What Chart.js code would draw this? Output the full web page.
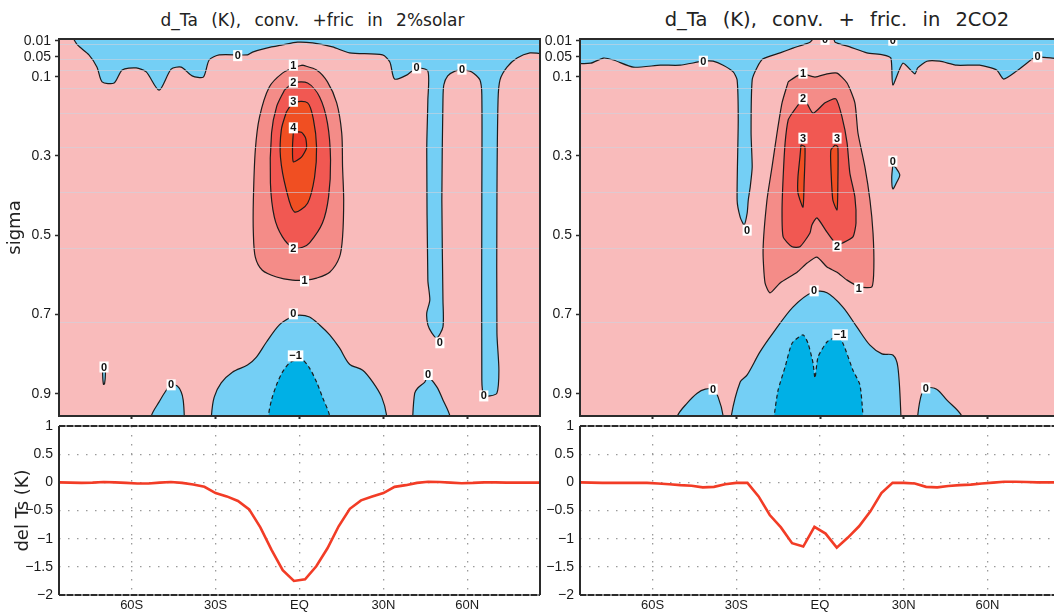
<!DOCTYPE html>
<html>
<head>
<meta charset="utf-8">
<script src="https://cdn.jsdelivr.net/npm/chart.js@4.4.0/dist/chart.umd.min.js"></script>
<style>
  html, body { margin: 0; padding: 0; background: #fff; overflow: hidden; }
  body { width: 1054px; height: 613px; position: relative; }
  canvas { position: absolute; }
  .ttl { position: absolute; line-height: 1; font-family: "DejaVu Sans", sans-serif; color: #222; white-space: nowrap; transform: translateX(-50%); }
</style>
</head>
<body>
<div class="ttl" style="left:312.5px; top:12px; font-size:17px; word-spacing:8px;">d_Ta (K), conv. +fric in 2%solar</div>
<div class="ttl" style="left:837px; top:10px; font-size:19.5px; word-spacing:9px;">d_Ta (K), conv. + fric. in 2CO2</div>
<canvas id="taSolar" width="548" height="430" style="left:0; top:0;"></canvas>
<canvas id="taCO2" width="547" height="430" style="left:521px; top:0;"></canvas>
<canvas id="tsSolar" width="548" height="202" style="left:0; top:411px;"></canvas>
<canvas id="tsCO2" width="547" height="202" style="left:521px; top:411px;"></canvas>
<script>
// axes
const latTicks = [-60, -30, 0, 30, 60];
const latTickLabels = ['60S', '30S', 'EQ', '30N', '60N'];
const sigmaTicks = [0.01, 0.05, 0.1, 0.3, 0.5, 0.7, 0.9];
const sigmaTickLabels = ['0.01', '0.05', '0.1', '0.3', '0.5', '0.7', '0.9'];
const sigmaLevels = [0.018, 0.055, 0.084, 0.129, 0.192, 0.277, 0.390, 0.533, 0.719];
const tsTicks = [-2, -1.5, -1, -0.5, 0, 0.5, 1];
const tsTickLabels = ['\u22122', '\u22121.5', '\u22121', '\u22120.5', '0', '0.5', '1'];

// surface temperature change, del Ts (K)
const tsLat = [-86, -82, -78, -74, -70, -66, -62, -58, -54, -50, -46, -42, -38, -34, -30, -26, -22, -18, -14, -10, -6, -2,
               2, 6, 10, 14, 18, 22, 26, 30, 34, 38, 42, 46, 50, 54, 58, 62, 66, 70, 74, 78, 82, 86];
const tsSolar = [0, -0.005, -0.01, -0.005, 0.005, 0, -0.01, -0.02, -0.02, -0.005, 0.005, -0.01, -0.04, -0.08, -0.19, -0.25, -0.33, -0.48, -0.8, -1.2, -1.56, -1.75,
                 -1.72, -1.49, -1.17, -0.78, -0.47, -0.32, -0.25, -0.19, -0.08, -0.05, -0.01, 0.01, 0.005, -0.005, -0.015, -0.01, 0, 0, -0.005, -0.005, -0.005, -0.005];
const tsCO2 = [0, -0.005, -0.01, -0.01, -0.01, -0.01, -0.01, -0.02, -0.035, -0.05, -0.06, -0.09, -0.08, -0.035, -0.01, -0.01, -0.25, -0.58, -0.8, -1.08, -1.14, -0.79,
               -0.91, -1.16, -0.98, -0.78, -0.52, -0.19, -0.01, -0.01, -0.02, -0.08, -0.09, -0.065, -0.05, -0.04, -0.02, -0.005, 0.01, 0.01, 0.005, 0, 0, 0];

// d_Ta contours, 2% solar: [lat, sigma]
const solarNegTop = [[-81.2, 0], [-79.4, 0.02], [-75.3, 0.045], [-72.4, 0.076], [-70.6, 0.113], [-66.3, 0.116], [-63.4, 0.083], [-58.4, 0.078],
  [-54.8, 0.088], [-50.2, 0.134], [-45.9, 0.081], [-42.3, 0.076], [-38.4, 0.098], [-34.4, 0.101], [-32.3, 0.058], [-28.7, 0.045], [-18.6, 0.045],
  [-16.8, 0.038], [-11.8, 0.028], [-6.1, 0.02], [-0.7, 0.013], [4.7, 0.015], [11.8, 0.025], [17.9, 0.04], [29.7, 0.045], [32.3, 0.063], [34.0, 0.106],
  [38.3, 0.096], [41.9, 0.078], [45.9, 0.086], [45.9, 0.159], [45.5, 0.285], [45.9, 0.613], [46.6, 0.663], [45.5, 0.696], [45.9, 0.726], [47.3, 0.746],
  [49.1, 0.759], [51.3, 0.731], [51.3, 0.663], [50.9, 0.411], [51.3, 0.159], [51.6, 0.121], [53.0, 0.098], [55.6, 0.086], [58.1, 0.083], [61.6, 0.088],
  [64.5, 0.108], [65.2, 0.146], [65.2, 0.411], [65.2, 0.865], [65.9, 0.903], [68.1, 0.905], [70.6, 0.898], [71.3, 0.84], [70.6, 0.746], [70.6, 0.411],
  [71.0, 0.159], [71.7, 0.108], [74.2, 0.076], [77.8, 0.053], [82.4, 0.04], [88, 0.04], [88, 0], [-81.2, 0]];
const solarNegSpot = [[-70.3, 0.828], [-69.6, 0.826], [-69.4, 0.85], [-69.7, 0.874], [-70.1, 0.876], [-70.4, 0.85], [-70.3, 0.828]];
const solarNegLowA = [[-53.0, 1], [-53.0, 0.956], [-50.2, 0.92], [-47.6, 0.89], [-45.9, 0.877], [-43.7, 0.88], [-42.3, 0.895], [-41.6, 0.915], [-41.2, 0.956], [-41.2, 1]];
const solarNegLowB = [[-31.5, 1], [-31.5, 0.956], [-30.5, 0.908], [-28.0, 0.872], [-24.0, 0.845], [-18.6, 0.827], [-15.4, 0.807], [-11.8, 0.769],
  [-7.2, 0.726], [-2.9, 0.706], [0, 0.701], [3.6, 0.706], [7.2, 0.726], [10.8, 0.751], [14.3, 0.784], [17.9, 0.825], [22.6, 0.84], [26.2, 0.87],
  [29.4, 0.908], [31.2, 0.956], [31.2, 1]];
const solarNegLowC = [[40.5, 1], [40.5, 0.956], [41.2, 0.898], [42.3, 0.885], [44.8, 0.87], [45.9, 0.857], [49.1, 0.882], [51.3, 0.915], [53.8, 0.956], [53.8, 1]];
const solarMinus1 = [[-11.1, 1], [-11.1, 0.956], [-10.0, 0.915], [-8.2, 0.877], [-6.1, 0.845], [-3.6, 0.822], [-1.1, 0.814], [1.1, 0.814], [3.6, 0.835],
  [6.1, 0.87], [8.2, 0.908], [10.8, 0.956], [10.8, 1]];
const solarPlus1 = [[1.1, 0.071], [6.1, 0.083], [10.0, 0.113], [13.3, 0.166], [15.1, 0.242], [15.4, 0.328], [15.8, 0.411], [15.4, 0.504], [14.3, 0.555],
  [10.8, 0.593], [6.1, 0.608], [2.2, 0.613], [-2.5, 0.613], [-8.2, 0.605], [-13.3, 0.588], [-15.8, 0.555], [-16.5, 0.494], [-16.5, 0.411], [-15.8, 0.285],
  [-14.3, 0.202], [-10.8, 0.126], [-6.1, 0.091], [-1.8, 0.076], [1.1, 0.071]];
const solarPlus2 = [[-5.4, 0.134], [-2.2, 0.116], [2.9, 0.116], [7.2, 0.151], [10.0, 0.217], [11.1, 0.31], [10.4, 0.403], [8.2, 0.469], [3.6, 0.519],
  [1.1, 0.53], [-2.2, 0.532], [-6.1, 0.504], [-9.0, 0.454], [-10.4, 0.368], [-10.0, 0.242], [-8.2, 0.176], [-5.4, 0.134]];
const solarPlus3 = [[-4.7, 0.189], [-2.2, 0.166], [2.9, 0.166], [5.0, 0.209], [6.1, 0.277], [5.4, 0.353], [2.9, 0.419], [-1.8, 0.441], [-4.7, 0.386],
  [-6.8, 0.303], [-6.5, 0.234], [-4.7, 0.189]];
const solarPlus4 = [[-2.2, 0.24], [0.7, 0.24], [2.2, 0.255], [2.5, 0.28], [0.7, 0.303], [-2.2, 0.315], [-2.5, 0.277], [-2.2, 0.24]];
const solarLabels = [[-22.1, 0.047, '0'], [41.9, 0.078, '0'], [58.1, 0.081, '0'], [-2.2, 0.071, '1'], [-2.2, 0.114, '2'], [-2.2, 0.162, '3'],
  [-2.2, 0.229, '4'], [-2.2, 0.532, '2'], [1.8, 0.615, '1'], [-2.2, 0.698, '0'], [-1.4, 0.804, '\u22121'], [-69.9, 0.832, '0'], [-45.9, 0.877, '0'],
  [50.2, 0.771, '0'], [46.0, 0.851, '0'], [65.9, 0.905, '0']];

// d_Ta contours, 2CO2: [lat, sigma]
const co2NegTop = [[-88, 0], [-88, 0.063], [-82.2, 0.066], [-77.6, 0.053], [-74.0, 0.058], [-66.9, 0.076], [-57.2, 0.071], [-50.1, 0.071], [-41.8, 0.061],
  [-38.3, 0.061], [-34.7, 0.071], [-31.1, 0.088], [-29.7, 0.108], [-29.3, 0.209], [-29.7, 0.411], [-28.6, 0.454], [-27.2, 0.474], [-26.1, 0.444],
  [-25.7, 0.411], [-25.0, 0.378], [-24.3, 0.328], [-24.7, 0.242], [-24.3, 0.108], [-22.5, 0.076], [-20.4, 0.055], [-14.3, 0.04], [-9.7, 0.028],
  [-3.6, 0.013], [-1.8, 0], [4.6, 0], [5.4, 0.013], [10.7, 0.025], [16.8, 0.04], [22.5, 0.045], [25.4, 0.053], [26.1, 0.121], [29.7, 0.066],
  [34.0, 0.093], [35.0, 0.078], [38.3, 0.061], [42.9, 0.061], [49.0, 0.071], [57.2, 0.071], [63.3, 0.083], [65.8, 0.106], [70.4, 0.086], [76.2, 0.055],
  [78.0, 0.05], [83.3, 0.053], [88, 0.053], [88, 0], [-88, 0]];
const co2NegSpot = [[26.1, 0.323], [27.2, 0.33], [28.6, 0.348], [27.5, 0.366], [26.1, 0.383], [25.7, 0.355], [26.1, 0.323]];
const co2NegLowA = [[-51.1, 1], [-51.1, 0.956], [-47.6, 0.923], [-44.0, 0.898], [-41.1, 0.888], [-38.3, 0.888], [-36.5, 0.908], [-34.7, 0.956], [-34.7, 1]];
const co2NegLowB = [[-31.8, 1], [-31.8, 0.956], [-28.6, 0.87], [-26.1, 0.852], [-21.5, 0.794], [-16.8, 0.746], [-9.7, 0.681], [-2.5, 0.643], [2.5, 0.645],
  [8.2, 0.681], [13.2, 0.731], [17.9, 0.777], [22.2, 0.799], [26.1, 0.802], [27.9, 0.832], [29.0, 0.956], [29.0, 1]];
const co2NegLowC = [[35.0, 1], [35.0, 0.956], [36.5, 0.898], [38.3, 0.885], [41.8, 0.888], [45.4, 0.915], [50.8, 0.956], [50.8, 1]];
const co2Minus1 = [[-16.4, 1], [-16.4, 0.956], [-15.0, 0.89], [-12.5, 0.832], [-10.0, 0.772], [-6.1, 0.751], [-4.3, 0.772], [-2.5, 0.822], [-1.8, 0.86],
  [-0.7, 0.807], [2.5, 0.769], [6.1, 0.756], [8.2, 0.772], [11.8, 0.84], [14.3, 0.877], [15.4, 0.956], [15.4, 1]];
const co2Plus1 = [[-11.4, 0.113], [-8.2, 0.098], [-6.1, 0.093], [-1.8, 0.101], [2.5, 0.093], [6.1, 0.091], [9.7, 0.116], [12.5, 0.166], [13.6, 0.242],
  [16.1, 0.328], [17.9, 0.411], [19.0, 0.494], [19.3, 0.58], [18.6, 0.63], [14.3, 0.63], [9.7, 0.613], [6.1, 0.593], [2.5, 0.58], [-1.1, 0.555],
  [-4.6, 0.57], [-8.2, 0.593], [-14.3, 0.62], [-17.9, 0.645], [-19.7, 0.62], [-20.4, 0.537], [-19.0, 0.411], [-17.2, 0.328], [-15.4, 0.242],
  [-13.6, 0.166], [-11.4, 0.113]];
const co2Plus2 = [[-10.0, 0.192], [-7.2, 0.166], [-5.4, 0.159], [-2.5, 0.192], [1.8, 0.166], [5.7, 0.156], [7.9, 0.202], [9.7, 0.267], [10.7, 0.343],
  [12.5, 0.403], [12.9, 0.469], [11.8, 0.504], [8.2, 0.519], [6.1, 0.524], [2.5, 0.492], [-1.1, 0.456], [-2.9, 0.474], [-3.6, 0.494], [-7.2, 0.529],
  [-10.0, 0.529], [-13.2, 0.504], [-13.6, 0.436], [-13.2, 0.353], [-12.5, 0.267], [-11.4, 0.209], [-10.0, 0.192]];
const co2Plus3a = [[-6.8, 0.272], [-5.4, 0.277], [-5.7, 0.368], [-6.1, 0.429], [-7.9, 0.393], [-7.9, 0.353], [-7.2, 0.303], [-6.8, 0.272]];
const co2Plus3b = [[5.4, 0.272], [6.4, 0.277], [6.4, 0.368], [6.1, 0.436], [4.6, 0.411], [3.9, 0.328], [3.9, 0.285], [5.4, 0.272]];
const co2Labels = [[-41.8, 0.061, '0'], [1.8, 0.006, '0'], [26.1, 0.008, '0'], [78.0, 0.05, '0'], [-26.1, 0.487, '0'], [26.1, 0.313, '0'],
  [-6.1, 0.091, '1'], [-6.1, 0.156, '2'], [-6.1, 0.255, '3'], [6.1, 0.255, '3'], [6.1, 0.527, '2'], [13.9, 0.633, '1'], [-2.1, 0.64, '0'],
  [7.2, 0.751, '\u22121'], [-38.3, 0.888, '0'], [37.9, 0.885, '0']];

const bandColors = {
  below1: '#00b0e6', below0: '#74cff5', above0: '#f9bbbb',
  above1: '#f48c88', above2: '#f15852', above3: '#f04f22', above4: '#ec3a28'
};

Chart.defaults.font.family = '"Liberation Sans", Arial, sans-serif';
Chart.defaults.color = '#1a1a1a';

// fill each closed contour with its band colour, under its own outline
const polyFill = {
  id: 'polyFill',
  beforeDatasetDraw(chart, args) {
    const ds = chart.data.datasets[args.index];
    const line = args.meta.dataset;
    if (!ds.areaColor || !line) return;
    const { ctx, chartArea: a } = chart;
    line.updateControlPoints(a, 'x');
    ctx.save();
    ctx.beginPath();
    ctx.rect(a.left, a.top, a.width, a.height);
    ctx.clip();
    ctx.beginPath();
    line.path(ctx);
    ctx.closePath();
    ctx.fillStyle = ds.areaColor;
    ctx.fill();
    ctx.restore();
  }
};

function overlay(labels) {
  return {
    id: 'overlay',
    beforeDraw(chart) {
      const { ctx, chartArea: a } = chart;
      ctx.save();
      ctx.fillStyle = bandColors.above0;
      ctx.fillRect(a.left, a.top, a.width, a.height);
      ctx.restore();
    },
    afterDatasetsDraw(chart) {
      const { ctx, chartArea: a, scales: { x, y } } = chart;
      ctx.save();
      ctx.beginPath();
      ctx.rect(a.left, a.top, a.width, a.height);
      ctx.clip();
      ctx.strokeStyle = 'rgba(205,210,222,0.6)';
      ctx.lineWidth = 1;
      sigmaLevels.forEach(s => {
        const py = Math.round(y.getPixelForValue(s)) + 0.5;
        ctx.beginPath();
        ctx.moveTo(a.left, py);
        ctx.lineTo(a.right, py);
        ctx.stroke();
      });
      ctx.font = 'bold 11px "Liberation Sans", Arial, sans-serif';
      ctx.textAlign = 'center';
      ctx.textBaseline = 'middle';
      labels.forEach(l => {
        const px = x.getPixelForValue(l[0]);
        const py = y.getPixelForValue(l[1]);
        const w = ctx.measureText(l[2]).width + 3;
        ctx.fillStyle = '#fff';
        ctx.fillRect(px - w / 2, py - 5.5, w, 11);
        ctx.fillStyle = '#111';
        ctx.fillText(l[2], px, py + 0.5);
      });
      ctx.restore();
    }
  };
}

function frame(dashedEdges) {
  return {
    id: 'frame',
    afterDraw(chart) {
      const { ctx, chartArea: a } = chart;
      ctx.save();
      ctx.strokeStyle = '#2b2b2b';
      ctx.lineWidth = 2;
      if (!dashedEdges) {
        ctx.strokeRect(a.left, a.top, a.width, a.height);
      } else {
        ctx.beginPath();
        ctx.moveTo(a.left, a.top); ctx.lineTo(a.left, a.bottom);
        ctx.moveTo(a.right, a.top); ctx.lineTo(a.right, a.bottom);
        ctx.stroke();
        [a.top, a.bottom].forEach(py => {
          ctx.setLineDash([]);
          ctx.strokeStyle = '#8c8c8c';
          ctx.beginPath(); ctx.moveTo(a.left, py); ctx.lineTo(a.right, py); ctx.stroke();
          ctx.setLineDash([6, 2]);
          ctx.strokeStyle = '#2b2b2b';
          ctx.beginPath(); ctx.moveTo(a.left, py); ctx.lineTo(a.right, py); ctx.stroke();
        });
      }
      ctx.restore();
    }
  };
}

function contourChart(id, shapes, labels, yTitle) {
  const datasets = shapes.map((s, i) => ({
    data: s.pts.map(p => ({ x: p[0], y: p[1] })),
    showLine: true,
    fill: false,
    areaColor: bandColors[s.band],
    borderColor: '#1c1c1c',
    borderWidth: 1.2,
    borderDash: s.band === 'below1' ? [4, 3] : [],
    tension: s.tension === undefined ? 0.3 : s.tension,
    pointRadius: 0,
    order: shapes.length - i
  }));
  return new Chart(document.getElementById(id), {
    type: 'scatter',
    data: { datasets },
    options: {
      responsive: false,
      animation: false,
      layout: { padding: { top: 39, right: 8, left: 0, bottom: 0 } },
      plugins: { legend: { display: false }, tooltip: { enabled: false } },
      scales: {
        x: {
          type: 'linear', min: -86, max: 86,
          afterBuildTicks: s => { s.ticks = latTicks.map(v => ({ value: v })); },
          afterFit: s => { s.height = 14; },
          grid: { drawOnChartArea: false, tickLength: 3, tickWidth: 2, tickColor: '#2b2b2b' },
          border: { display: false },
          ticks: { autoSkip: false, callback: () => '' }
        },
        y: {
          type: 'linear', reverse: true, min: 0.005, max: 0.9556,
          afterBuildTicks: s => { s.ticks = sigmaTicks.map(v => ({ value: v })); },
          afterFit: s => { s.width = 59; },
          grid: { drawOnChartArea: false, tickLength: 4, tickWidth: 1.5, tickColor: '#2b2b2b' },
          border: { display: false },
          ticks: { autoSkip: false, font: { size: 14 }, padding: 4, callback: (v, i) => sigmaTickLabels[i] },
          title: { display: !!yTitle, text: yTitle || '', color: '#222',
                   font: { family: '"DejaVu Sans", sans-serif', size: 18 }, padding: { top: 5, bottom: 0 } }
        }
      }
    },
    plugins: [polyFill, overlay(labels), frame(false)]
  });
}

function tsChart(id, values, yTitle) {
  return new Chart(document.getElementById(id), {
    type: 'line',
    data: { datasets: [{ data: tsLat.map((lat, i) => ({ x: lat, y: values[i] })),
                         borderColor: '#f23c26', borderWidth: 2.6, pointRadius: 0, tension: 0 }] },
    options: {
      responsive: false,
      animation: false,
      layout: { padding: { top: 15, right: 8, left: 0, bottom: 0 } },
      plugins: { legend: { display: false }, tooltip: { enabled: false } },
      scales: {
        x: {
          type: 'linear', min: -86, max: 86,
          afterBuildTicks: s => { s.ticks = latTicks.map(v => ({ value: v })); },
          afterFit: s => { s.height = 18; },
          grid: { color: '#9a9a9a', lineWidth: 1.3, drawTicks: false },
          border: { display: false, dash: [1.5, 7.5] },
          ticks: { autoSkip: false, maxRotation: 0, font: { size: 13 }, padding: 3, callback: (v, i) => latTickLabels[i] }
        },
        y: {
          type: 'linear', min: -2, max: 1,
          afterBuildTicks: s => { s.ticks = tsTicks.map(v => ({ value: v })); },
          afterFit: s => { s.width = 59; },
          grid: { color: '#9a9a9a', lineWidth: 1.3, drawTicks: false },
          border: { display: false, dash: [1.5, 7.5] },
          ticks: { autoSkip: false, font: { size: 14 }, padding: 6, callback: (v, i) => tsTickLabels[i] },
          title: { display: !!yTitle, text: yTitle || '', color: '#222',
                   font: { family: '"DejaVu Sans", sans-serif', size: 18 }, padding: { top: 13, bottom: 0 } }
        }
      }
    },
    plugins: [frame(true)]
  });
}

contourChart('taSolar', [
  { band: 'below0', pts: solarNegTop, tension: 0.25 },
  { band: 'below0', pts: solarNegSpot, tension: 0.3 },
  { band: 'below0', pts: solarNegLowA },
  { band: 'below0', pts: solarNegLowB },
  { band: 'below0', pts: solarNegLowC },
  { band: 'below1', pts: solarMinus1 },
  { band: 'above1', pts: solarPlus1 },
  { band: 'above2', pts: solarPlus2 },
  { band: 'above3', pts: solarPlus3 },
  { band: 'above4', pts: solarPlus4, tension: 0.2 }
], solarLabels, 'sigma');

contourChart('taCO2', [
  { band: 'below0', pts: co2NegTop, tension: 0.2 },
  { band: 'below0', pts: co2NegSpot },
  { band: 'below0', pts: co2NegLowA },
  { band: 'below0', pts: co2NegLowB },
  { band: 'below0', pts: co2NegLowC },
  { band: 'below1', pts: co2Minus1, tension: 0.2 },
  { band: 'above1', pts: co2Plus1, tension: 0.2 },
  { band: 'above2', pts: co2Plus2, tension: 0.2 },
  { band: 'above3', pts: co2Plus3a, tension: 0.2 },
  { band: 'above3', pts: co2Plus3b, tension: 0.2 }
], co2Labels, null);

tsChart('tsSolar', tsSolar, 'del Ts (K)');
tsChart('tsCO2', tsCO2, null);
</script>
</body>
</html>
